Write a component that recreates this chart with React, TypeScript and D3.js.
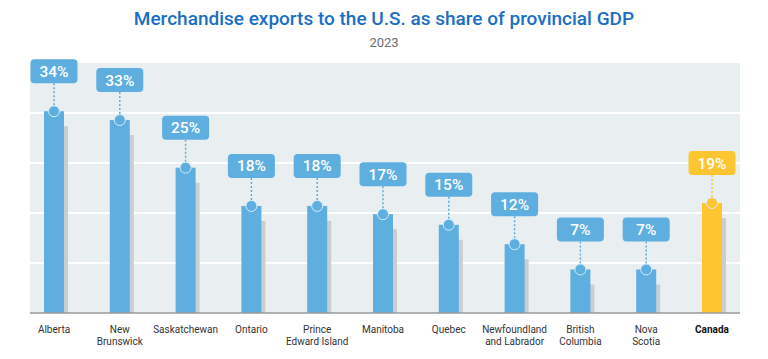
import React from "react";
import * as d3 from "d3";

const categories = [
  ["Alberta"],
  ["New", "Brunswick"],
  ["Saskatchewan"],
  ["Ontario"],
  ["Prince", "Edward Island"],
  ["Manitoba"],
  ["Quebec"],
  ["Newfoundland", "and Labrador"],
  ["British", "Columbia"],
  ["Nova", "Scotia"],
  ["Canada"],
];
const values = [34.3, 32.8, 24.7, 18.2, 18.2, 16.8, 15.0, 11.7, 7.4, 7.4, 18.7];
const labels = ["34%", "33%", "25%", "18%", "18%", "17%", "15%", "12%", "7%", "7%", "19%"];
const gridTicks = [0, 8.5, 17, 25.5, 34, 42.5];
const yMax = 42.5;

const W = 768;
const H = 359;
const plotLeft = 30;
const plotRight = 740;
const plotTop = 63;
const plotBottom = 313;
const BLUE = "#5eaee0";
const YELLOW = "#fdc530";
const FONT = "Roboto, 'Noto Sans', sans-serif";

export default function App() {
  const keys = categories.map((c) => c.join(" "));
  const x = d3.scalePoint<string>().domain(keys).range([54, 712]);
  const y = d3.scaleLinear().domain([0, yMax]).range([plotBottom, plotTop]);
  const barW = 20;
  const boxW = 47;
  const boxH = 24;

  return (
    <svg width={W} height={H} style={{ position: "absolute", left: 0, top: 0, background: "#fff" }}>
      <text x={W / 2} y={25} textAnchor="middle" fontFamily={FONT} fontSize={19} fontWeight={500} fill="#1a6fc4">
        Merchandise exports to the U.S. as share of provincial GDP
      </text>
      <text x={W / 2} y={47} textAnchor="middle" fontFamily={FONT} fontSize={13} fill="#6b6b6b">
        2023
      </text>
      <rect x={plotLeft} y={plotTop} width={plotRight - plotLeft} height={plotBottom - plotTop} fill="#e9eef1" />
      {gridTicks.slice(1, -1).map((t) => (
        <line key={t} x1={plotLeft} x2={plotRight} y1={y(t)} y2={y(t)} stroke="#ffffff" strokeWidth={2} />
      ))}
      {values.map((v, i) => {
        const k = keys[i];
        const cx = x(k)!;
        const top = y(v);
        const isCanada = i === values.length - 1;
        const col = isCanada ? YELLOW : BLUE;
        const boxBottom = top - 28;
        return (
          <g key={k}>
            <rect x={cx - barW / 2 + 4} y={top + 15} width={barW} height={plotBottom - top - 15} fill="#c9ced2" />
            <rect x={cx - barW / 2} y={top} width={barW} height={plotBottom - top} fill={col} />
            <line x1={cx} x2={cx} y1={boxBottom} y2={top - 5} stroke={col} strokeWidth={1.5} strokeDasharray="2,2" />
            <circle cx={cx} cy={top} r={5.5} fill={col} stroke="#d6ecf8" strokeWidth={1} />
            <rect x={cx - boxW / 2} y={boxBottom - boxH} width={boxW} height={boxH} rx={4} fill={col} />
            <text x={cx} y={boxBottom - boxH / 2 + 5.5} textAnchor="middle" fontFamily={FONT} fontSize={15.5} fontWeight={500} fill="#fff">
              {labels[i]}
            </text>
          </g>
        );
      })}
      <line x1={plotLeft} x2={plotRight} y1={plotBottom} y2={plotBottom} stroke="#9a9a9a" strokeWidth={1.5} />
      {categories.map((lines, i) => {
        const isCanada = i === categories.length - 1;
        return lines.map((l, j) => (
          <text key={`${i}-${j}`} x={x(keys[i])!} y={333 + j * 12} textAnchor="middle" fontFamily={FONT} fontSize={10}
            fontWeight={isCanada ? 700 : 400} fill={isCanada ? "#111" : "#333"}>
            {l}
          </text>
        ));
      })}
    </svg>
  );
}
